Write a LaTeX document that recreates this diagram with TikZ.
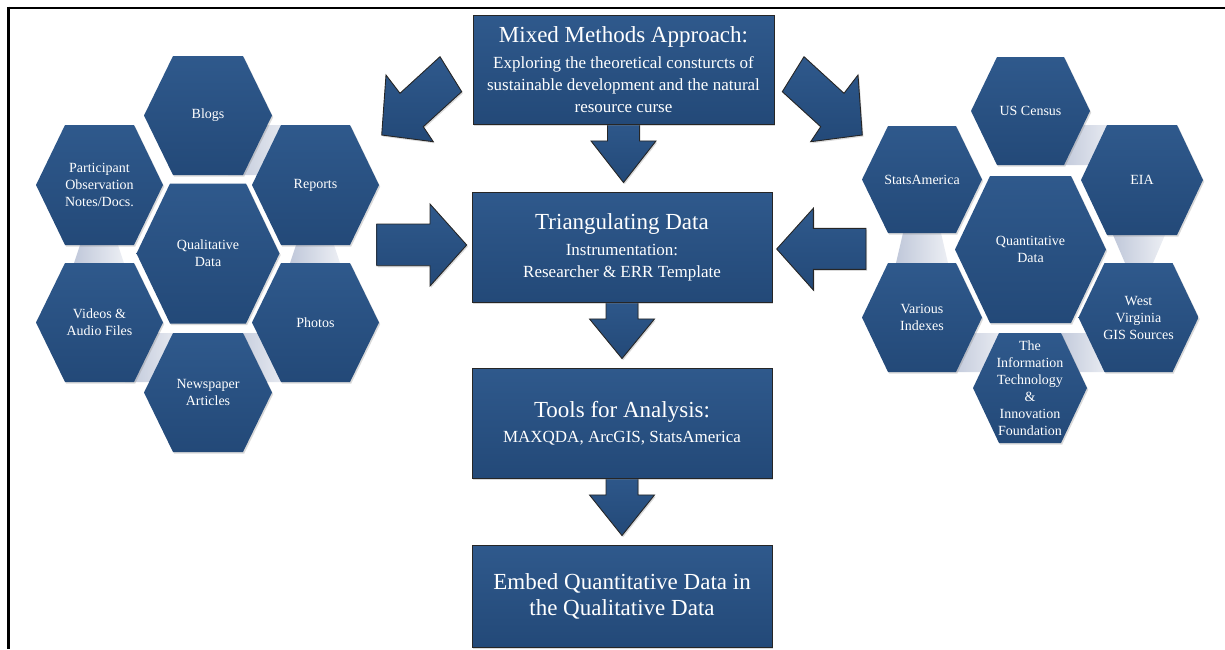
\documentclass[tikz,border=0pt]{standalone}
\usepackage{fontspec}
\setmainfont{Liberation Serif}
\usetikzlibrary{calc,shadows,backgrounds}
\definecolor{hexblue}{RGB}{39,79,128}
\definecolor{hextop}{RGB}{47,89,140}
\definecolor{hexbot}{RGB}{35,73,120}
\definecolor{boxblue}{RGB}{40,80,131}
\definecolor{connlight}{RGB}{192,200,218}
\tikzset{
  softshadow/.style={drop shadow={opacity=.3, shadow xshift=1.2pt, shadow yshift=-1.6pt}},
  hexshape/.style={top color=hextop, bottom color=hexbot, softshadow},
  hextext/.style={text=white, align=center, font=\fontsize{14}{17}\selectfont, inner sep=0pt},
  conn/.style={left color=connlight, right color=white!70!connlight},
  bigbox/.style={draw=black!85, line width=0.9pt, top color=hextop, bottom color=hexbot, text=white, align=center,
    minimum width=300pt, minimum height=110pt, inner sep=0pt,
    font=\fontsize{17}{22}\selectfont, softshadow},
  blockarrow/.style={draw=black!85, line width=0.9pt, top color=hextop, bottom color=hexbot, line join=miter, softshadow},
  frameline/.style={line width=2.5pt, draw=black}
}
% name, cx, cy, half width, half height, slant, text
\newcommand{\hexcell}[7]{%
  \path[hexshape] (#2-#4,#3) -- (#2-#4+#6,#3-#5) -- (#2+#4-#6,#3-#5) -- (#2+#4,#3)
     -- (#2+#4-#6,#3+#5) -- (#2-#4+#6,#3+#5) -- cycle;
  \node[hextext] (#1) at (#2,#3) {#7};
}
\newcommand{\bigtitle}[1]{{\fontsize{23}{26}\selectfont #1}}
\newcommand{\downblock}[2]{%
  \path[blockarrow] let \p1=(#1.south), \p2=(#2.north) in
    (\x1-16pt,\y1+8pt) -- (\x1+16pt,\y1+8pt) -- (\x1+16pt,\y1-16.5pt) -- (\x1+32.5pt,\y1-16.5pt)
    -- (\x1,\y2+9pt) -- (\x1-32.5pt,\y1-16.5pt) -- (\x1-16pt,\y1-16.5pt) -- cycle;
}
\begin{document}
\begin{tikzpicture}[x=1pt,y=-1pt]
\useasboundingbox (0,0) rectangle (1225,649);
% frame
\draw[frameline] (7.5,7.8) -- (1225,7.8);
\draw[frameline] (8.7,6.6) -- (8.7,649);

% ---------- left cluster connectors ----------
\shade[conn] (255,125) -- (295,125) -- (270,175) -- (228,175) -- cycle;
\shade[conn] (80,245) -- (118,245) -- (124,263) -- (74,263) -- cycle;
\shade[conn] (296,245) -- (334,245) -- (340,263) -- (290,263) -- cycle;
\shade[conn] (150,333) -- (185,333) -- (160,382) -- (125,382) -- cycle;
\shade[conn] (265.5,333) -- (230.5,333) -- (255.5,382) -- (290.5,382) -- cycle;
% ---------- left cluster hexagons ----------
\hexcell{blogs}{208}{115.5}{64}{59.5}{29}{Blogs}
\hexcell{part}{99.5}{185}{63.5}{60}{29}{Participant\\Observation\\Notes/Docs.}
\hexcell{reports}{315.5}{185}{63.5}{60}{29}{Reports}
\hexcell{qual}{208}{253.5}{71.5}{70}{33.5}{Qualitative\\Data}
\hexcell{videos}{99.5}{322.5}{63.5}{59.5}{29}{Videos \&\\Audio Files}
\hexcell{photos}{315.5}{322.5}{63.5}{59.5}{29}{Photos}
\hexcell{news}{208}{392.5}{64}{59.5}{29}{Newspaper\\Articles}

% ---------- right cluster connectors ----------
\shade[conn] (1075,125) -- (1115,125) -- (1095,165) -- (1060,165) -- cycle;
\shade[conn] (903,233) -- (941,233) -- (948,263) -- (896,263) -- cycle;
\shade[conn] (1113,235) -- (1165,235) -- (1153,263) -- (1125,263) -- cycle;
\shade[conn] (968,333) -- (1005,333) -- (990,372) -- (950,372) -- cycle;
\shade[conn] (1058,333) -- (1095,333) -- (1110,372) -- (1072,372) -- cycle;
% ---------- right cluster hexagons ----------
\hexcell{census}{1030.5}{111}{59.5}{54}{26}{US Census}
\hexcell{stats}{922}{179.5}{60}{53.5}{26}{StatsAmerica}
\hexcell{eia}{1142}{180}{61}{55}{26}{EIA}
\hexcell{quant}{1030.5}{249.5}{75.5}{73.5}{35}{Quantitative\\Data}
\hexcell{various}{922}{317.5}{60}{54.5}{26}{Various\\Indexes}
\hexcell{wv}{1138.5}{317.5}{60}{54.5}{26}{West\\Virginia\\GIS Sources}
\hexcell{itif}{1030}{388}{57}{55}{26}{The\\Information\\Technology\\\&\\Innovation\\Foundation}

% ---------- central boxes ----------
\node[bigbox, minimum width=301pt, minimum height=109pt] (mix) at (623.5,69.5)
  {\bigtitle{Mixed Methods Approach:}\\[4pt]Exploring the theoretical consturcts of\\sustainable development and the natural\\resource curse};
\node[bigbox] (tri) at (622,247)
  {\bigtitle{Triangulating Data}\\[4pt]Instrumentation:\\Researcher \& ERR Template};
\node[bigbox] (tools) at (622,423)
  {\bigtitle{Tools for Analysis:}\\[3pt]MAXQDA, ArcGIS, StatsAmerica};
\node[bigbox, minimum height=102pt, font=\fontsize{23}{26}\selectfont] (embed) at (622,596)
  {Embed Quantitative Data in\\the Qualitative Data};

% ---------- block arrows ----------
\begin{pgfonlayer}{background}
\downblock{mix}{tri}
\downblock{tri}{tools}
\downblock{tools}{embed}
\end{pgfonlayer}
% diagonal arrows from the top box
\path[blockarrow] (440,56.7) -- (461.7,91.7) -- (423.3,126.7) -- (433.3,141.7)
  -- (381.7,135) -- (386,75) -- (400,93.3) -- cycle;
\path[blockarrow] (804,56.7) -- (782.3,91.7) -- (820.7,126.7) -- (810.7,141.7)
  -- (862.3,135) -- (858,75) -- (844,93.3) -- cycle;
% horizontal arrows into the triangulating box
\path[blockarrow] (376.7,224) -- (430,224) -- (430,204) -- (466.7,245) -- (430,286)
  -- (430,265.7) -- (376.7,265.7) -- cycle;
\path[blockarrow] (866,228.3) -- (813.3,228.3) -- (813.3,208.3) -- (776.7,249) -- (813.3,290)
  -- (813.3,269.3) -- (866,269.3) -- cycle;
\end{tikzpicture}
\end{document}
